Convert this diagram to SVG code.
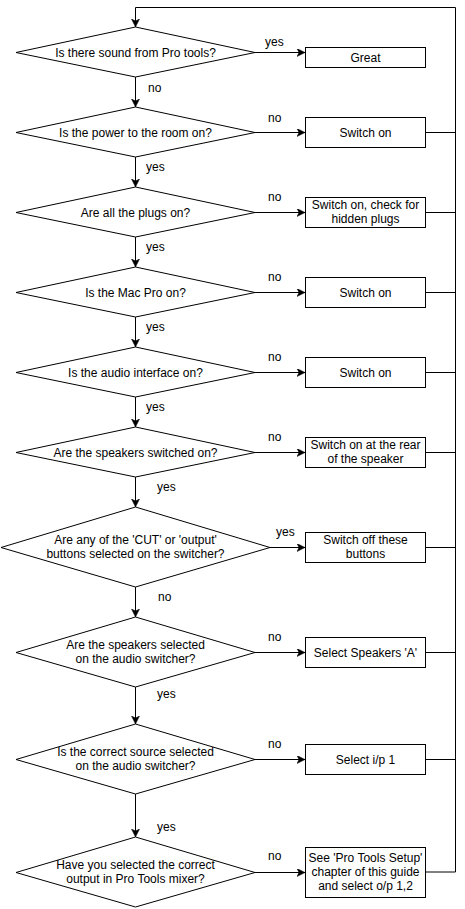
<svg xmlns="http://www.w3.org/2000/svg" width="465" height="909" viewBox="0 0 465 909">
<style>
.s{fill:#fff;stroke:#000;stroke-width:1}
.c{fill:none;stroke:#000;stroke-width:1}
text{font-family:"Liberation Sans",Arial,Helvetica,sans-serif;font-size:12px;fill:#000}
.m{text-anchor:middle}
</style>
<defs>
<marker id="a" markerWidth="10" markerHeight="10" refX="8" refY="4" orient="auto" markerUnits="userSpaceOnUse">
<path d="M0,0 L8,4 L0,8 L2,4 Z" fill="#000" stroke="#000" stroke-width="0.5"/>
</marker>
</defs>
<g id="connectors">
<path class="c" d="M425.5,872 H455.5 V7.5 H135.5 V27" marker-end="url(#a)"/>
<path class="c" d="M135.5,77 V107" marker-end="url(#a)"/>
<path class="c" d="M135.5,157 V187" marker-end="url(#a)"/>
<path class="c" d="M135.5,237 V267" marker-end="url(#a)"/>
<path class="c" d="M135.5,317 V347" marker-end="url(#a)"/>
<path class="c" d="M135.5,397 V427" marker-end="url(#a)"/>
<path class="c" d="M135.5,477 V507" marker-end="url(#a)"/>
<path class="c" d="M135.5,587 V617" marker-end="url(#a)"/>
<path class="c" d="M135.5,687 V724" marker-end="url(#a)"/>
<path class="c" d="M135.5,794 V837" marker-end="url(#a)"/>
<path class="c" d="M255,52.5 H305" marker-end="url(#a)"/>
<path class="c" d="M255,132.5 H305" marker-end="url(#a)"/>
<path class="c" d="M255,212.5 H305" marker-end="url(#a)"/>
<path class="c" d="M255,292.5 H305" marker-end="url(#a)"/>
<path class="c" d="M255,372.5 H305" marker-end="url(#a)"/>
<path class="c" d="M255,452.5 H305" marker-end="url(#a)"/>
<path class="c" d="M270,547.5 H305" marker-end="url(#a)"/>
<path class="c" d="M255,652.5 H305" marker-end="url(#a)"/>
<path class="c" d="M255,759.5 H305" marker-end="url(#a)"/>
<path class="c" d="M255,872.5 H305" marker-end="url(#a)"/>
<path class="c" d="M425.5,132.5 H455.5 M425.5,212.5 H455.5 M425.5,292.5 H455.5 M425.5,372.5 H455.5 M425.5,452.5 H455.5 M425.5,547.5 H455.5 M425.5,652.5 H455.5 M425.5,759.5 H455.5"/>
<text x="265" y="46">yes</text>
<text x="148" y="92">no</text>
<text x="268" y="122">no</text>
<text x="146" y="171">yes</text>
<text x="268" y="201">no</text>
<text x="146" y="251">yes</text>
<text x="268" y="281">no</text>
<text x="146" y="331">yes</text>
<text x="268" y="361">no</text>
<text x="146" y="411">yes</text>
<text x="268" y="441">no</text>
<text x="157" y="491">yes</text>
<text x="276" y="536">yes</text>
<text x="158" y="601">no</text>
<text x="268" y="641">no</text>
<text x="157" y="698">yes</text>
<text x="268" y="748">no</text>
<text x="157" y="831">yes</text>
<text x="268" y="860">no</text>
</g>
<g id="d1"><polygon class="s" points="135.5,27 255,52.5 135.5,77 16,52.5"/><text class="m" x="135.5" y="56.5">Is there sound from Pro tools?</text></g>
<g id="b1"><rect class="s" x="305.5" y="47.5" width="120" height="20"/><text class="m" x="365.5" y="61.5">Great</text></g>
<g id="d2"><polygon class="s" points="135.5,107 255,132.5 135.5,157 16,132.5"/><text class="m" x="135.5" y="136.5">Is the power to the room on?</text></g>
<g id="b2"><rect class="s" x="305.5" y="117.5" width="120" height="30"/><text class="m" x="365.5" y="136.5">Switch on</text></g>
<g id="d3"><polygon class="s" points="135.5,187 255,212.5 135.5,237 16,212.5"/><text class="m" x="135.5" y="216.5">Are all the plugs on?</text></g>
<g id="b3"><rect class="s" x="305.5" y="197.5" width="120" height="30"/><text class="m" x="365.5" y="209">Switch on, check for</text><text class="m" x="365.5" y="223">hidden plugs</text></g>
<g id="d4"><polygon class="s" points="135.5,267 255,292.5 135.5,317 16,292.5"/><text class="m" x="135.5" y="296.5">Is the Mac Pro on?</text></g>
<g id="b4"><rect class="s" x="305.5" y="277.5" width="120" height="30"/><text class="m" x="365.5" y="296.5">Switch on</text></g>
<g id="d5"><polygon class="s" points="135.5,347 255,372.5 135.5,397 16,372.5"/><text class="m" x="135.5" y="376.5">Is the audio interface on?</text></g>
<g id="b5"><rect class="s" x="305.5" y="357.5" width="120" height="30"/><text class="m" x="365.5" y="376.5">Switch on</text></g>
<g id="d6"><polygon class="s" points="135.5,427 255,452.5 135.5,477 16,452.5"/><text class="m" x="135.5" y="456.5">Are the speakers switched on?</text></g>
<g id="b6"><rect class="s" x="305.5" y="437.5" width="120" height="30"/><text class="m" x="365.5" y="449">Switch on at the rear</text><text class="m" x="365.5" y="463">of the speaker</text></g>
<g id="d7"><polygon class="s" points="135.5,507 270,547.5 135.5,587 1,547.5"/><text class="m" x="135.5" y="544">Are any of the 'CUT' or 'output'</text><text class="m" x="135.5" y="558">buttons selected on the switcher?</text></g>
<g id="b7"><rect class="s" x="305.5" y="532.5" width="120" height="30"/><text class="m" x="365.5" y="544">Switch off these</text><text class="m" x="365.5" y="558">buttons</text></g>
<g id="d8"><polygon class="s" points="135.5,617 255,652.5 135.5,687 16,652.5"/><text class="m" x="135.5" y="649">Are the speakers selected</text><text class="m" x="135.5" y="663">on the audio switcher?</text></g>
<g id="b8"><rect class="s" x="305.5" y="637.5" width="120" height="30"/><text class="m" x="365.5" y="656.5">Select Speakers 'A'</text></g>
<g id="d9"><polygon class="s" points="135.5,724 255,759.5 135.5,794 16,759.5"/><text class="m" x="135.5" y="756">Is the correct source selected</text><text class="m" x="135.5" y="770">on the audio switcher?</text></g>
<g id="b9"><rect class="s" x="305.5" y="744.5" width="120" height="30"/><text class="m" x="365.5" y="763.5">Select i/p 1</text></g>
<g id="d10"><polygon class="s" points="135.5,837 255,872.5 135.5,907 16,872.5"/><text class="m" x="135.5" y="869">Have you selected the correct</text><text class="m" x="135.5" y="883">output in Pro Tools mixer?</text></g>
<g id="b10"><rect class="s" x="305.5" y="847.5" width="120" height="50"/><text class="m" x="365.5" y="862">See 'Pro Tools Setup'</text><text class="m" x="365.5" y="876">chapter of this guide</text><text class="m" x="365.5" y="890">and select o/p 1,2</text></g>
</svg>
